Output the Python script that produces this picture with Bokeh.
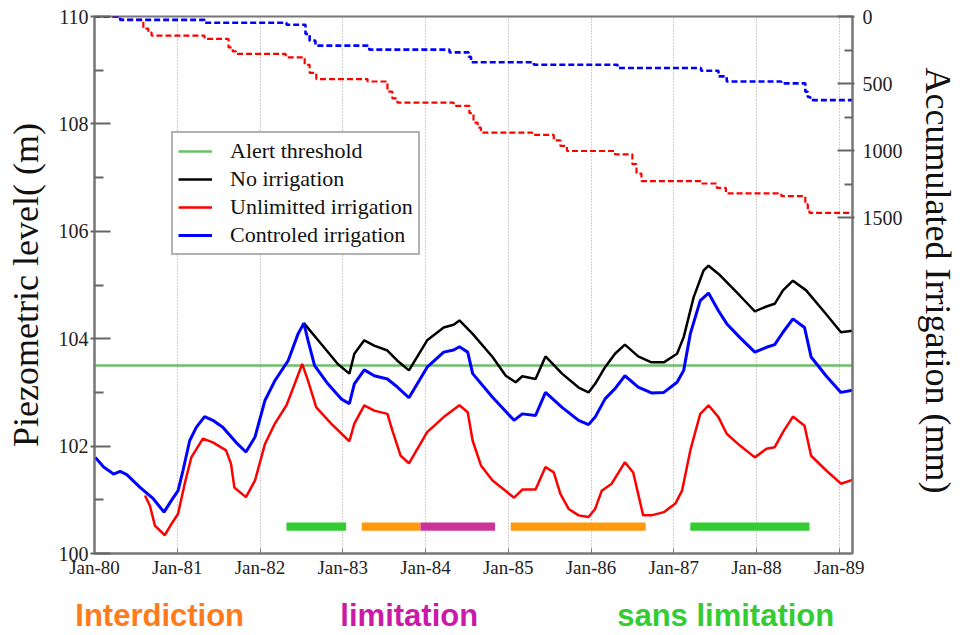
from bokeh.plotting import figure
from bokeh.models import (Range1d, LinearAxis, FixedTicker, Legend, LegendItem,
                          ColumnDataSource)
from bokeh.core.properties import value
from bokeh.layouts import column
from bokeh.embed import file_html
from bokeh.resources import INLINE

# ---------------- data ----------------
year_ticks = [1980, 1981, 1982, 1983, 1984, 1985, 1986, 1987, 1988, 1989]
year_labels = ["Jan-80", "Jan-81", "Jan-82", "Jan-83", "Jan-84", "Jan-85",
               "Jan-86", "Jan-87", "Jan-88", "Jan-89"]

alert_threshold = 103.5

# Controlled irrigation (blue)
ctrl_t = [1980.01, 1980.11, 1980.23, 1980.31, 1980.39, 1980.55, 1980.71, 1980.84,
          1980.93, 1981.01, 1981.07, 1981.15, 1981.23, 1981.33, 1981.43, 1981.55,
          1981.71, 1981.83, 1981.94, 1982.06, 1982.18, 1982.34, 1982.46, 1982.53,
          1982.58, 1982.66, 1982.82, 1982.98, 1983.08, 1983.14, 1983.26, 1983.38,
          1983.54, 1983.66, 1983.80, 1984.02, 1984.22, 1984.34, 1984.41, 1984.51,
          1984.57, 1984.81, 1985.07, 1985.17, 1985.33, 1985.45, 1985.65, 1985.85,
          1985.97, 1986.05, 1986.17, 1986.29, 1986.41, 1986.57, 1986.73, 1986.88,
          1987.04, 1987.12, 1987.20, 1987.32, 1987.42, 1987.54, 1987.64, 1987.80,
          1987.98, 1988.12, 1988.22, 1988.32, 1988.44, 1988.58, 1988.66, 1988.84,
          1989.02, 1989.16]
ctrl_v = [101.79, 101.61, 101.48, 101.53, 101.47, 101.23, 101.02, 100.77,
          100.99, 101.17, 101.55, 102.10, 102.35, 102.55, 102.48, 102.35,
          102.07, 101.89, 102.17, 102.85, 103.22, 103.59, 104.09, 104.29,
          103.97, 103.50, 103.16, 102.88, 102.79, 103.16, 103.42, 103.31,
          103.25, 103.10, 102.90, 103.47, 103.75, 103.79, 103.85, 103.75,
          103.35, 102.91, 102.48, 102.60, 102.57, 103.00, 102.72, 102.48,
          102.40, 102.54, 102.88, 103.07, 103.31, 103.10, 102.99, 103.00,
          103.19, 103.41, 104.09, 104.71, 104.85, 104.52, 104.28, 104.02,
          103.75, 103.84, 103.89, 104.12, 104.37, 104.21, 103.66, 103.31,
          103.00, 103.04]

# No irrigation (black) - identical to controlled before mid-1982
noirr_t = [1982.53, 1982.74, 1982.94, 1983.08, 1983.14, 1983.26, 1983.38, 1983.54,
           1983.66, 1983.80, 1984.02, 1984.22, 1984.34, 1984.41, 1984.57, 1984.81,
           1984.97, 1985.09, 1985.17, 1985.33, 1985.45, 1985.65, 1985.85, 1985.97,
           1986.05, 1986.17, 1986.29, 1986.41, 1986.57, 1986.73, 1986.88, 1987.04,
           1987.12, 1987.24, 1987.36, 1987.42, 1987.56, 1987.80, 1987.98, 1988.12,
           1988.22, 1988.32, 1988.44, 1988.60, 1988.84, 1989.02, 1989.16]
noirr_v = [104.29, 103.90, 103.53, 103.35, 103.72, 103.97, 103.87, 103.78,
           103.59, 103.41, 103.97, 104.21, 104.26, 104.34, 104.09, 103.66,
           103.31, 103.19, 103.30, 103.25, 103.67, 103.35, 103.09, 103.00,
           103.16, 103.47, 103.72, 103.89, 103.67, 103.56, 103.56, 103.72,
           104.03, 104.77, 105.27, 105.36, 105.18, 104.80, 104.51, 104.60,
           104.65, 104.90, 105.08, 104.90, 104.46, 104.12, 104.15]

# Unlimited irrigation (red) - identical to controlled before late 1980
unl_t = [1980.61, 1980.67, 1980.73, 1980.85, 1980.93, 1981.01, 1981.09, 1981.17,
         1981.31, 1981.43, 1981.59, 1981.65, 1981.69, 1981.83, 1981.94, 1982.06,
         1982.18, 1982.32, 1982.42, 1982.51, 1982.58, 1982.68, 1982.86, 1983.08,
         1983.14, 1983.26, 1983.38, 1983.54, 1983.60, 1983.70, 1983.80, 1984.02,
         1984.22, 1984.41, 1984.51, 1984.57, 1984.67, 1984.81, 1985.07, 1985.17,
         1985.33, 1985.45, 1985.55, 1985.63, 1985.73, 1985.85, 1985.97, 1986.05,
         1986.13, 1986.25, 1986.41, 1986.51, 1986.57, 1986.63, 1986.73, 1986.88,
         1987.02, 1987.10, 1987.20, 1987.32, 1987.42, 1987.54, 1987.64, 1987.80,
         1987.98, 1988.12, 1988.22, 1988.32, 1988.44, 1988.58, 1988.66, 1988.84,
         1989.02, 1989.16]
unl_v = [101.08, 100.89, 100.52, 100.34, 100.55, 100.74, 101.30, 101.79,
         102.14, 102.07, 101.92, 101.67, 101.23, 101.05, 101.36, 102.04,
         102.42, 102.76, 103.16, 103.53, 103.22, 102.72, 102.42, 102.09,
         102.42, 102.76, 102.66, 102.60, 102.29, 101.82, 101.68, 102.26,
         102.54, 102.76, 102.63, 102.10, 101.64, 101.36, 101.04, 101.19,
         101.19, 101.61, 101.51, 101.11, 100.83, 100.71, 100.68, 100.83,
         101.17, 101.30, 101.70, 101.51, 101.11, 100.71, 100.71, 100.77,
         100.93, 101.17, 101.92, 102.60, 102.76, 102.54, 102.23, 102.01,
         101.79, 101.95, 101.98, 102.26, 102.55, 102.38, 101.82, 101.55,
         101.30, 101.37]

# Accumulated irrigation (mm), right axis
acc_ctrl_t = [1980.00, 1980.31, 1981.33, 1982.32, 1982.55, 1982.60, 1982.67, 1983.32,
              1984.29, 1984.52, 1984.55, 1985.31, 1986.32, 1987.33, 1987.54, 1987.64,
              1988.30, 1988.59, 1988.62, 1988.65, 1989.16]
acc_ctrl_mm = [0, 25, 47, 62, 130, 180, 217, 247,
               267, 300, 341, 359, 384, 404, 446, 484,
               498, 560, 600, 623, 623]

acc_unl_t = [1980.00, 1980.31, 1980.59, 1980.65, 1980.69, 1981.33, 1981.62, 1981.67,
             1981.71, 1982.31, 1982.54, 1982.60, 1982.68, 1983.30, 1983.54, 1983.60,
             1983.66, 1984.34, 1984.53, 1984.58, 1984.63, 1984.67, 1985.29, 1985.55,
             1985.63, 1985.71, 1986.29, 1986.50, 1986.55, 1986.61, 1987.33, 1987.52,
             1987.63, 1988.30, 1988.59, 1988.62, 1988.64, 1989.16]
acc_unl_mm = [0, 25, 90, 120, 142, 167, 230, 260,
              279, 304, 360, 420, 466, 484, 560, 610,
              641, 665, 720, 790, 828, 865, 882, 922,
              964, 1002, 1027, 1100, 1170, 1226, 1244, 1276,
              1318, 1338, 1400, 1440, 1463, 1463]

# Irrigation regime periods (bars)
period_start = [1982.32, 1983.23, 1983.94, 1985.03, 1987.20]
period_end = [1983.04, 1983.94, 1984.84, 1986.66, 1988.64]
period_kind = ["sans limitation", "Interdiction", "limitation", "Interdiction", "sans limitation"]
period_level = 100.5

regime_names = ["Interdiction", "limitation", "sans limitation"]
regime_x = [1979.77, 1982.94, 1986.25]

# ---------------- styles ----------------
regime_colors = {"Interdiction": "#ff9a10", "limitation": "#cc3399", "sans limitation": "#33cc33"}
regime_text_colors = {"Interdiction": "#ff7a1a", "limitation": "#cc1aa8", "sans limitation": "#33cc33"}
SERIF = "Liberation Serif"

W = 960
FL, FR, FT = 94, 860, 16          # frame edges (px)
MAIN_H = 590
FB = 553

x0, x1 = 1980, 1989.16
p = figure(width=W, height=MAIN_H, output_backend="svg", toolbar_location=None,
           x_range=Range1d(x0, x1), y_range=Range1d(100, 110),
           min_border_left=FL, min_border_right=W - FR, min_border_top=FT,
           min_border_bottom=MAIN_H - FB)
p.extra_y_ranges = {"irr": Range1d(4000, 0)}
p.outline_line_color = "#777777"
p.outline_line_width = 2

# grid
p.ygrid.visible = False
p.xgrid.ticker = FixedTicker(ticks=year_ticks)
p.xgrid.grid_line_color = "#a0a0a0"
p.xgrid.grid_line_dash = "1 2"
p.xgrid.grid_line_width = 1

# x axis
xa = p.xaxis[0]
xa.ticker = FixedTicker(ticks=year_ticks)
xa.major_label_overrides = {t: l for t, l in zip(year_ticks, year_labels)}
xa.major_label_text_font = SERIF
xa.major_label_text_font_size = "19px"
xa.major_label_text_color = "#222222"
xa.major_tick_in = 5
xa.major_tick_out = 0
xa.minor_tick_line_color = None
xa.axis_line_color = "#777777"
xa.axis_line_width = 2
xa.major_tick_line_color = "#777777"
xa.major_label_standoff = 3

# left y axis
ya = p.yaxis[0]
ya.ticker = FixedTicker(ticks=[100, 102, 104, 106, 108, 110], minor_ticks=[101, 103, 105, 107, 109])
ya.major_label_text_font = SERIF
ya.major_label_text_font_size = "20px"
ya.major_label_text_color = "#222222"
ya.major_tick_in = 16
ya.major_tick_out = 4
ya.minor_tick_in = 9
ya.minor_tick_out = 0
ya.major_label_standoff = 2
ya.axis_line_color = "#777777"
ya.axis_line_width = 2
ya.major_tick_line_color = "#666666"
ya.major_tick_line_width = 2
ya.minor_tick_line_color = "#666666"
ya.minor_tick_line_width = 2
ya.axis_label = "Piezometric level( (m)"
ya.axis_label_text_font = SERIF
ya.axis_label_text_font_size = "36px"
ya.axis_label_text_font_style = "normal"
ya.axis_label_text_color = "#111111"
ya.axis_label_standoff = 10

# right y axis
ra = LinearAxis(y_range_name="irr",
                ticker=FixedTicker(ticks=[0, 500, 1000, 1500], minor_ticks=[250, 750, 1250]))
ra.major_label_text_font = SERIF
ra.major_label_text_font_size = "20px"
ra.major_label_text_color = "#222222"
ra.major_tick_in = 15
ra.major_tick_out = 2
ra.minor_tick_in = 8
ra.minor_tick_out = 0
ra.major_label_standoff = 8
ra.axis_line_color = "#777777"
ra.axis_line_width = 2
ra.major_tick_line_color = "#666666"
ra.major_tick_line_width = 2
ra.minor_tick_line_color = "#666666"
ra.minor_tick_line_width = 2
ra.axis_label = "Accumulated  Irrigation (mm)"
ra.axis_label_text_font = SERIF
ra.axis_label_text_font_size = "36px"
ra.axis_label_text_font_style = "normal"
ra.axis_label_text_color = "#111111"
ra.axis_label_standoff = 12
p.add_layout(ra, "right")

# threshold
r_thr = p.line([x0, x1], [alert_threshold, alert_threshold], line_color="#6cbf6a", line_width=2.5)

# accumulated irrigation (dashed steps)
p.step(acc_unl_t, acc_unl_mm, mode="after", y_range_name="irr",
       line_color="#ff0000", line_width=2.2, line_dash="6 3")
p.step(acc_ctrl_t, acc_ctrl_mm, mode="after", y_range_name="irr",
       line_color="#0000ff", line_width=2.6, line_dash="6 3")

# piezometric curves
r_no = p.line(noirr_t, noirr_v, line_color="black", line_width=2.5)
r_unl = p.line(unl_t, unl_v, line_color="#ff0000", line_width=2.5)
r_ctrl = p.line(ctrl_t, ctrl_v, line_color="#0000ff", line_width=3)

# regime bars
bars = ColumnDataSource(dict(
    left=period_start, right=period_end,
    y=[period_level] * len(period_start),
    color=[regime_colors[k] for k in period_kind]))
p.hbar(y="y", left="left", right="right", height=0.15, fill_color="color",
       line_color=None, source=bars)

# legend
LEG_H = 123
legend = Legend(items=[
    LegendItem(label="Alert threshold", renderers=[r_thr]),
    LegendItem(label="No irrigation", renderers=[r_no]),
    LegendItem(label="Unlimitted irrigation", renderers=[r_unl]),
    LegendItem(label="Controled irrigation", renderers=[r_ctrl]),
], location=(171 - FL, (FB - FT) - (132 - FT) - LEG_H))
legend.label_text_font = SERIF
legend.label_text_font_size = "22px"
legend.label_text_color = "#111111"
legend.glyph_width = 34
legend.glyph_height = 22
legend.label_height = 25
legend.spacing = 2
legend.padding = 5
legend.margin = 0
legend.label_standoff = 18
legend.border_line_color = "#666666"
legend.border_line_width = 2
legend.background_fill_alpha = 1
p.add_layout(legend, "center")

# ---- strip with regime names below the chart ----
px_per_year = (FR - FL) / (x1 - x0)
LAB_H = 635 - MAIN_H
q = figure(width=W, height=LAB_H, output_backend="svg", toolbar_location=None,
           x_range=Range1d(x0 - FL / px_per_year, x0 + (W - FL) / px_per_year),
           y_range=Range1d(0, LAB_H), min_border=0)
for fig in (p, q):
    try:
        fig.frame_align = False
    except Exception:
        pass
q.axis.visible = False
q.grid.visible = False
q.outline_line_color = None
src_names = ColumnDataSource(dict(
    x=regime_x, y=[LAB_H - (615 - MAIN_H)] * len(regime_x), text=regime_names,
    color=[regime_text_colors[n] for n in regime_names]))
q.text(x="x", y="y", text="text", text_color="color", source=src_names,
       text_font=value("Liberation Sans"), text_font_style="bold",
       text_font_size="31px", text_baseline="middle")

layout = column(p, q, spacing=0)
open("out.html", "w").write(file_html(layout, INLINE))
